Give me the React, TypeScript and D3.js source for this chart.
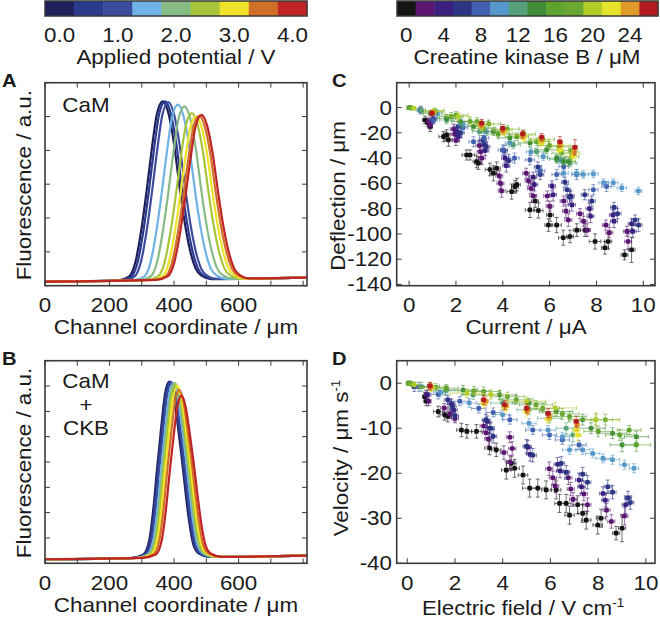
import React, { useRef, useEffect } from 'react';
import * as d3 from 'd3';

// colour bars
const potentialTicks = ['0.0', '1.0', '2.0', '3.0', '4.0'];
const potentialColors = ['#1f1f5c', '#2a3a8c', '#3b4c9e', '#6db3e3', '#86bb84', '#a8c43a', '#f0e228', '#d07028', '#c02424'];
const ckbTicks = ['0', '4', '8', '12', '16', '20', '24'];
const ckbColors = ['#141414', '#5a1670', '#3a1e80', '#2c3484', '#4260b0', '#5597c8', '#55a07a', '#3f8c38', '#5ea32e', '#6aa833', '#b4cc28', '#e5e22a', '#e09a2a', '#b21a1e'];

// panel A (CaM) : peak centre / height for each applied potential
const peakCenterA = [365, 372, 382, 412, 432, 455, 468, 478, 485];
const peakHeightA = [5.45, 5.45, 5.43, 5.35, 5.3, 5.1, 5.0, 5.02, 5.05];
// measured peak profile (offset from centre, fraction of peak height)
const shapeOffsetA = [-140, -105, -85, -65, -50, -35, -18, 0, 18, 35, 52, 68, 85, 102, 120, 150];
const shapeValueA = [0, 0.02, 0.1, 0.3, 0.5, 0.72, 0.93, 1, 0.93, 0.76, 0.52, 0.32, 0.16, 0.06, 0.02, 0];
const baseXA = [0, 810];
const baseYA = [0.12, 0.24];

// panel B (CaM + CKB)
const peakCenterB = [385, 388, 392, 398, 402, 405, 410, 416, 423];
const peakHeightB = [7.17, 7.17, 7.15, 7.12, 7.12, 7.08, 7.0, 6.85, 6.62];
const shapeOffsetB = [-120, -80, -62, -48, -38, -26, -13, 0, 13, 26, 38, 50, 62, 75, 92, 125];
const shapeValueB = [0, 0.02, 0.1, 0.3, 0.5, 0.72, 0.93, 1, 0.93, 0.76, 0.58, 0.38, 0.2, 0.07, 0.02, 0];
const baseXB = [0, 810];
const baseYB = [0.16, 0.3];

// panel C : deflection vs current, [x, y, xErr, yErr] per CKB concentration
const deflection = [
  [[0.68,-9.8,.1,3],[0.8,-12,.1,3],[0.9,-15,.1,4],[1.47,-23,.2,4],[1.6,-21.6,.15,4],[1.68,-25.6,.15,5],[2.46,-37.5,.2,4],[2.6,-37.5,.2,4],[2.88,-42.7,.15,5],[2.96,-44,.15,5],[3.45,-49,.2,5],[3.6,-52,.15,6],[3.74,-48,.15,5],[4.38,-66.5,.2,6],[4.52,-62.6,.15,5],[4.6,-61,.15,5],[5.16,-81,.2,6],[5.38,-74,.15,5],[5.52,-81.5,.2,6],[5.95,-93,.15,5],[6.02,-85,.15,5],[6.3,-93,.2,6],[6.58,-103,.2,6],[6.87,-102,.15,5],[7.16,-97,.15,5],[7.51,-97,.2,5],[7.94,-106,.25,6],[8.36,-111,.15,5],[8.5,-106,.15,6],[9.2,-116.6,.15,4],[9.5,-112.6,.15,10]],
  [[0.85,-11,.1,3],[0.9,-14,.1,3],[1.9,-17,.15,4],[1.95,-21,.15,4],[2.0,-26,.15,4],[3.0,-30,.15,4],[3.05,-35,.15,4],[3.1,-40,.15,5],[3.85,-54,.15,4],[3.9,-60,.15,4],[3.95,-66,.15,5],[5.0,-52,.15,4],[5.1,-58,.15,4],[5.2,-64,.15,4],[5.3,-70,.15,5],[5.9,-70,.15,4],[6.0,-78,.15,4],[6.6,-74,.15,4],[6.7,-82,.15,5],[6.8,-89,.15,5],[7.3,-84,.15,4],[7.45,-90,.15,4],[7.6,-97,.15,5],[8.4,-93,.15,4],[8.55,-99,.15,4],[9.3,-98,.15,4],[9.35,-106,.15,6]],
  [[1.0,-10,.1,3],[2.05,-19,.15,4],[2.1,-23,.15,4],[3.2,-29,.15,4],[3.25,-34,.15,4],[4.1,-40,.15,4],[4.15,-46,.15,5],[5.3,-55,.15,4],[5.35,-61,.15,5],[6.1,-62,.15,4],[6.15,-69,.15,5],[6.9,-70,.15,4],[6.95,-77,.15,5],[7.7,-80,.15,4],[7.75,-86,.15,5],[8.7,-85,.15,4],[8.75,-90,.15,5],[9.5,-92,.15,4],[9.55,-98,.15,5]],
  [[0.5,-2,.1,3],[1.05,-9,.1,3],[2.1,-15,.15,4],[2.2,-20,.15,4],[3.15,-26,.15,4],[3.3,-31,.15,4],[4.05,-34,.15,4],[4.25,-42,.15,5],[5.5,-47,.15,4],[5.6,-53,.15,4],[6.65,-59,.15,4],[6.75,-65,.15,4],[6.85,-71,.15,5],[7.5,-69,.15,4],[7.8,-74,.15,4],[8.75,-79,.15,4],[8.9,-84,.15,4],[9.65,-89,.15,4],[9.8,-93,.15,5]],
  [[0.47,-2,.1,2],[1.04,-9.8,.15,3],[2.3,-16,.2,4],[2.75,-27,.2,4],[3.2,-24,.2,4],[4.0,-33.5,.2,4],[4.5,-40,.2,4],[5.16,-41.4,.2,4],[5.6,-50,.2,4],[6.3,-53,.2,4],[6.6,-46.7,.2,4],[7.15,-53,.2,4],[7.87,-65,.2,4],[8.43,-62.5,.2,4]],
  [[1.2,-5,.2,3],[2.3,-13.7,.2,3],[3.3,-19,.2,3],[4.3,-28,.2,3],[5.2,-35,.2,3],[5.73,-38.8,.2,3],[6.44,-41.4,.2,3],[6.6,-52,.2,3],[7.15,-52,.2,3],[7.44,-53,.2,3],[7.87,-52.5,.2,3],[8.3,-59.5,.2,3],[8.72,-59.5,.2,3],[9.08,-63.5,.2,3],[9.79,-66,.15,3]],
  [[0.5,-2,.2,2],[1.6,-9.8,.3,3],[3.0,-19,.3,3],[4.45,-29.5,.3,3],[5.45,-35,.3,3],[6.3,-41,.3,3],[6.87,-44,.3,3]],
  [[0.05,0,.1,1],[0.9,-4.5,.3,2],[1.6,-8.4,.4,3],[2.2,-11,.4,3],[2.75,-15,.5,3],[3.6,-19,.5,3],[4.3,-24,.5,3],[5.16,-28,.5,3],[5.87,-33.5,.5,3],[6.3,-40,.4,3],[6.59,-42.7,.3,3],[6.8,-42.7,.3,3]],
  [[0.0,0,.1,1],[1.0,-3.5,.4,2],[1.8,-7,.5,3],[2.6,-11,.5,3],[3.17,-16.4,.5,3],[3.8,-21,.5,3],[4.6,-23,.5,3],[5.45,-27,.5,3],[6.0,-30,.5,3],[6.5,-36,.4,3],[6.94,-38.8,.3,3]],
  [[0.1,-0.5,.1,1],[1.1,-2.5,.4,2],[2.0,-6,.5,3],[2.9,-11,.5,3],[3.4,-13,.5,3],[4.2,-17,.5,3],[4.9,-21,.5,3],[5.7,-25,.5,3],[6.4,-31,.4,3],[6.9,-34,.3,3]],
  [[0.2,-0.5,.1,1],[1.05,-3,.4,2],[2.1,-7,.5,3],[3.1,-13,.5,3],[4.0,-18,.4,3],[4.9,-22,.4,3],[5.6,-26,.4,3],[6.5,-30,.4,3],[7.0,-36,.3,3]],
  [[1.0,-4,.15,2],[3.1,-15,.15,3],[4.05,-19,.15,3],[4.88,-24,.15,3],[5.66,-28,.15,3],[6.44,-33.5,.15,3],[7.0,-38.8,.15,3]],
  [[1.02,-4.2,.1,2],[3.05,-13.5,.1,3],[4.0,-18,.1,3],[4.85,-22,.1,3],[5.66,-25,.1,3],[6.44,-29,.1,3],[7.05,-35,.1,3]],
  [[0.97,-4.5,.1,2],[3.1,-12.4,.1,3],[4.0,-16.4,.1,3],[4.85,-20.8,.1,3],[5.66,-23.5,.1,3],[6.44,-27,.1,4],[7.08,-31.4,.1,6]],
];

// panel D : velocity vs electric field
const velocity = [
  [[0.74,-3,.1,1],[0.8,-4,.1,1],[1.3,-6.3,.2,1.2],[1.57,-7,.2,1.2],[1.7,-7.4,.15,1.2],[2.27,-10.4,.2,1.5],[2.5,-10.7,.2,1.5],[2.9,-10.7,.2,1.5],[3.45,-14.4,.2,1.5],[3.73,-14.8,.2,1.5],[4.15,-19.3,.2,2],[4.36,-17.8,.2,1.5],[4.5,-18.9,.2,2],[4.85,-20.4,.2,2],[5.13,-23.3,.3,2],[5.47,-23.3,.3,2],[5.82,-23.7,.2,2],[6.24,-23.7,.2,2],[6.38,-26.7,.2,2],[6.66,-26.7,.2,2],[6.8,-29.3,.2,2],[7.14,-27,.2,2],[7.35,-28.9,.2,2],[7.5,-30.4,.2,2],[7.98,-31.5,.2,2],[8.12,-30,.2,2],[8.75,-33.3,.15,1.5],[9.0,-32.2,.15,3]],
  [[0.8,-2.6,.1,1],[0.9,-4,.1,1],[1.55,-5.5,.15,1],[1.8,-6.8,.15,1],[2.0,-7.8,.15,1],[3.2,-9.5,.15,1.2],[3.3,-11,.15,1.2],[3.4,-12.4,.15,1.5],[4.05,-15.4,.15,1.5],[4.3,-17.5,.15,1.5],[4.3,-12,.15,1.2],[4.4,-14.5,.15,1.5],[5.95,-19,.15,1.5],[6.1,-21,.15,1.5],[6.2,-22.8,.15,1.5],[6.75,-21,.15,1.5],[6.85,-23.5,.15,1.5],[6.95,-25.8,.15,1.5],[7.4,-24.6,.15,1.5],[7.55,-27,.15,1.5],[8.35,-28.2,.15,1.5],[8.55,-30.7,.15,1.5],[9.1,-29.5,.15,2]],
  [[0.85,-2.5,.1,1],[1.85,-4.5,.15,1],[1.95,-6,.15,1.2],[3.35,-8.5,.15,1.2],[3.45,-10,.15,1.2],[5.05,-14.2,.15,1.5],[5.15,-15.8,.15,1.5],[6.3,-18,.15,1.5],[6.4,-19.5,.15,1.5],[7.2,-21.5,.15,1.5],[7.3,-23,.15,1.5],[8.2,-24.5,.15,1.5],[8.3,-26,.15,1.5],[9.15,-27,.15,2]],
  [[0.3,-0.8,.1,1],[1.7,-3.7,.15,1],[1.9,-5.2,.15,1],[2.0,-7.2,.15,1.2],[3.3,-8.1,.15,1.2],[3.5,-10,.15,1.2],[3.6,-11.8,.15,1.5],[5.0,-14,.15,1.5],[5.26,-16,.15,1.5],[6.45,-17.8,.15,1.5],[6.66,-19.8,.15,1.5],[7.35,-20.2,.15,1.5],[7.55,-22,.15,1.5],[8.4,-23,.15,1.5],[8.6,-24.2,.15,1.5],[9.25,-25.5,.15,1.5],[9.35,-26.5,.15,1.5]],
  [[0.5,-0.8,.2,1],[1.3,-2.5,.3,1],[2.2,-4,.4,1],[3.0,-5.6,.3,1],[3.6,-6.5,.3,1],[4.3,-8.1,.3,1],[5.26,-10.4,.3,1],[5.96,-11.5,.3,1],[6.5,-12.6,.3,1],[7.2,-13.7,.3,1]],
  [[1.4,-2,.3,1],[2.6,-4.4,.3,1],[4.0,-7,.3,1],[5.1,-8.9,.3,1],[5.9,-10.4,.3,1],[6.5,-11.9,.3,1],[6.8,-14.8,.3,1],[7.35,-14.8,.3,1],[7.77,-15.6,.3,1],[8.2,-16.7,.3,1],[8.6,-17,.3,1],[9.1,-18.1,.2,1],[9.5,-18.9,.2,1]],
  [[0.6,-0.8,.3,1],[1.6,-1.6,.4,1],[2.76,-2.6,.5,1],[4.0,-4.4,.5,1],[5.1,-5.9,.5,1],[5.96,-7.8,.5,1],[6.66,-10,.4,1.2],[6.94,-11.5,.3,1.5]],
  [[0.1,0,.1,.5],[0.95,-0.7,.4,.8],[2.34,-1.5,.6,1],[3.87,-2.6,.7,1],[5.1,-4.4,.7,1],[6.24,-6.3,.7,1],[7.35,-8.1,.6,1.2],[7.7,-10,.6,1.2],[8.6,-11.1,.6,1.2],[9.0,-13.7,.5,1.5],[9.6,-11.9,.5,1.2]],
  [[0.05,0,.1,.5],[1.64,-1.1,.5,.8],[3.2,-1.85,.7,1],[4.57,-3.7,.7,1],[5.68,-5.6,.7,1],[6.8,-7.4,.7,1.2],[8.0,-10.7,.6,1.2],[8.9,-11.5,.6,1.2],[9.3,-10.4,.5,1],[9.6,-13.7,.6,1.5]],
  [[0.2,-0.2,.1,.5],[1.2,-0.9,.5,.8],[2.8,-1.7,.7,1],[4.2,-3,.7,1],[5.4,-4.8,.7,1],[6.5,-6.8,.7,1.2],[7.9,-8.1,.7,1.2],[8.3,-8.1,.6,1.2]],
  [[0.3,-0.3,.2,.5],[1.0,-1,.5,.8],[2.5,-2.2,.7,1],[3.5,-2.5,.7,1],[5.0,-4,.8,1],[6.2,-5.5,.9,1.2],[7.9,-8.1,.9,1.5]],
  [[1.0,-1,.15,.8],[3.2,-4.5,.15,1],[4.1,-5.5,.15,1],[5.0,-6.3,.15,1],[5.9,-8,.15,1],[7.08,-10.4,.15,1.2],[7.15,-11.5,.15,1.2]],
  [[1.0,-0.8,.1,.8],[3.3,-4,.1,1],[4.15,-5,.1,1],[5.05,-6,.1,1],[5.95,-7.3,.1,1],[7.12,-9.3,.1,1.2]],
  [[0.95,-0.6,.1,.8],[3.2,-3.7,.1,1],[4.08,-4.8,.1,1],[5.0,-5.6,.1,1],[5.9,-6.7,.1,1],[7.08,-8.5,.1,1.2]],
];

const chTicks = [0, 200, 400, 600];
const chMinor = [100, 300, 500, 700, 800];
const fieldTicks = [0, 2, 4, 6, 8, 10];
const deflTicks = [0, -20, -40, -60, -80, -100, -120, -140];
const velTicks = [0, -10, -20, -30, -40];

const FONT = '"Liberation Sans", Arial, Helvetica, sans-serif';
const SX = 1.12; // the original lettering is a bit wide
const INK = '#1a1a1a';
const AX = '#3a3a3a';

// text helper, parts may contain a superscript
const addText = (sel, x, y, parts, opt: any = {}) => {
  const g = sel.append('g')
    .attr('transform', `translate(${x},${y}) rotate(${opt.rotate || 0}) scale(${SX},1)`);
  const t = g.append('text')
    .attr('text-anchor', opt.anchor || 'middle')
    .attr('font-family', FONT)
    .attr('font-size', opt.size || 20)
    .attr('font-weight', opt.weight || 'normal')
    .attr('fill', INK);
  (Array.isArray(parts) ? parts : [parts]).forEach(p => {
    if (typeof p === 'string') t.append('tspan').text(p);
    else t.append('tspan').attr('font-size', 12).attr('dy', -8).text(p.sup);
  });
};

const frame = (g, x, y, xt, yt) => {
  const [x0, x1] = x.range();
  const [y0, y1] = y.range();
  const tk = 5;
  xt.forEach(v => {
    g.append('line').attr('x1', x(v)).attr('x2', x(v)).attr('y1', y0).attr('y2', y0 - tk).attr('stroke', AX);
    g.append('line').attr('x1', x(v)).attr('x2', x(v)).attr('y1', y1).attr('y2', y1 + tk).attr('stroke', AX);
  });
  yt.forEach(v => {
    g.append('line').attr('x1', x0).attr('x2', x0 + tk).attr('y1', y(v)).attr('y2', y(v)).attr('stroke', AX);
    g.append('line').attr('x1', x1).attr('x2', x1 - tk).attr('y1', y(v)).attr('y2', y(v)).attr('stroke', AX);
  });
  g.append('rect').attr('x', x0).attr('y', y1).attr('width', x1 - x0).attr('height', y0 - y1)
    .attr('fill', 'none').attr('stroke', AX).attr('stroke-width', 1.6);
};

const colorBar = (g, x0, x1, colors) => {
  const band = d3.scaleBand().domain(d3.range(colors.length)).range([x0, x1]);
  colors.forEach((c, i) => {
    g.append('rect').attr('x', band(i)).attr('y', 1).attr('width', band.bandwidth() + 0.5).attr('height', 15).attr('fill', c);
  });
  g.append('rect').attr('x', x0).attr('y', 1).attr('width', x1 - x0).attr('height', 15)
    .attr('fill', 'none').attr('stroke', AX).attr('stroke-width', 1.5);
  return band;
};

const App = () => {
  const svgRef = useRef(null);

  useEffect(() => {
    const svg = d3.select(svgRef.current);
    svg.selectAll('*').remove();

    // colour bars
    const bandA = colorBar(svg, 45, 307, potentialColors);
    potentialTicks.forEach((t, i) => addText(svg, bandA(i * 2) + bandA.bandwidth() / 2, 42, t));
    addText(svg, 176, 64, 'Applied potential / V');
    const bandC = colorBar(svg, 397, 658, ckbColors);
    ckbTicks.forEach((t, i) => addText(svg, bandC(i * 2) + bandC.bandwidth() / 2, 42, t));
    addText(svg, 527, 64, 'Creatine kinase B / μM');

    // fluorescence panels
    const drawProfiles = (top, bottom, yMax, centers, heights, offs, vals, baseX, baseY, id) => {
      const x = d3.scaleLinear().domain([0, 812]).range([45, 307]);
      const y = d3.scaleLinear().domain([0, yMax]).range([bottom, top]);
      const base = d3.scaleLinear().domain(baseX).range(baseY);
      svg.append('clipPath').attr('id', id).append('rect')
        .attr('x', 45).attr('y', top).attr('width', 262).attr('height', bottom - top);
      const line = d3.line().x(d => x(d[0])).y(d => y(d[1])).curve(d3.curveMonotoneX);
      const g = svg.append('g').attr('clip-path', `url(#${id})`);
      centers.forEach((c, i) => {
        const pts = [[0, base(0)]];
        offs.forEach((o, k) => {
          const b = base(c + o);
          pts.push([c + o, b + (heights[i] - b) * vals[k]]);
        });
        pts.push([812, base(812)]);
        g.append('path').attr('d', line(pts)).attr('fill', 'none')
          .attr('stroke', potentialColors[i]).attr('stroke-width', 2.2);
      });
      frame(svg, x, y, chTicks.concat(chMinor), d3.range(0, yMax + 1));
      chTicks.forEach(v => addText(svg, x(v), bottom + 26.5, String(v)));
      addText(svg, 176, bottom + 48.5, 'Channel coordinate / μm');
      addText(svg, 31, (top + bottom) / 2 + 1, 'Fluorescence / a.u.', { rotate: -90 });
    };
    drawProfiles(82.7, 285.7, 6, peakCenterA, peakHeightA, shapeOffsetA, shapeValueA, baseXA, baseYA, 'clipA');
    drawProfiles(360.7, 563.3, 8, peakCenterB, peakHeightB, shapeOffsetB, shapeValueB, baseXB, baseYB, 'clipB');
    addText(svg, 86, 111.7, 'CaM');
    addText(svg, 86, 388, 'CaM');
    addText(svg, 86, 412, '+');
    addText(svg, 86, 435, 'CKB');

    // scatter panels
    const drawScatter = (top, bottom, xDom, yDom, series, yt) => {
      const x = d3.scaleLinear().domain(xDom).range([396.7, 655]);
      const y = d3.scaleLinear().domain(yDom).range([bottom, top]);
      series.forEach((pts, i) => {
        const c = ckbColors[i];
        const g = svg.append('g');
        const eb = g.append('g').attr('stroke', c).attr('stroke-opacity', 0.6).attr('stroke-width', 1);
        pts.forEach(([px, py, ex, ey]) => {
          const cx = x(px), cy = y(py);
          const xl = x(px - ex), xr = x(px + ex), yt2 = y(py + ey), yb = y(py - ey);
          eb.append('line').attr('x1', xl).attr('x2', xr).attr('y1', cy).attr('y2', cy);
          eb.append('line').attr('x1', xl).attr('x2', xl).attr('y1', cy - 2).attr('y2', cy + 2);
          eb.append('line').attr('x1', xr).attr('x2', xr).attr('y1', cy - 2).attr('y2', cy + 2);
          eb.append('line').attr('x1', cx).attr('x2', cx).attr('y1', yt2).attr('y2', yb);
          eb.append('line').attr('x1', cx - 2).attr('x2', cx + 2).attr('y1', yt2).attr('y2', yt2);
          eb.append('line').attr('x1', cx - 2).attr('x2', cx + 2).attr('y1', yb).attr('y2', yb);
        });
        g.selectAll('rect').data(pts).enter().append('rect')
          .attr('x', d => x(d[0]) - 2.3).attr('y', d => y(d[1]) - 2.3)
          .attr('width', 4.6).attr('height', 4.6).attr('rx', 1.2).attr('fill', c);
      });
      frame(svg, x, y, fieldTicks, yt);
      fieldTicks.forEach(v => addText(svg, x(v), bottom + 26.5, String(v)));
      yt.forEach(v => addText(svg, 392, y(v) + 7, String(v), { anchor: 'end' }));
      return { x, y };
    };
    drawScatter(82.7, 285.7, [-0.53, 10.5], [-141, 19.7], deflection, deflTicks);
    addText(svg, 526, 334, 'Current / μA');
    addText(svg, 344.5, 196, 'Deflection / μm', { rotate: -90 });
    drawScatter(360.7, 563.3, [-0.44, 10.38], [-40, 5], velocity, velTicks);
    addText(svg, 523, 614.5, ['Electric field / V cm', { sup: '-1' }]);
    addText(svg, 347.5, 458, ['Velocity / μm s', { sup: '-1' }], { rotate: -90 });

    // panel letters
    [['A', 2, 87], ['B', 2, 365], ['C', 332, 87], ['D', 332, 365]].forEach(([t, px, py]) =>
      addText(svg, px, py, t, { anchor: 'start', weight: 'bold', size: 18 }));
  }, []);

  return (
    <svg ref={svgRef} width={660} height={623}
      style={{ position: 'absolute', left: 0, top: 0, background: '#fff' }} />
  );
};

export default App;
